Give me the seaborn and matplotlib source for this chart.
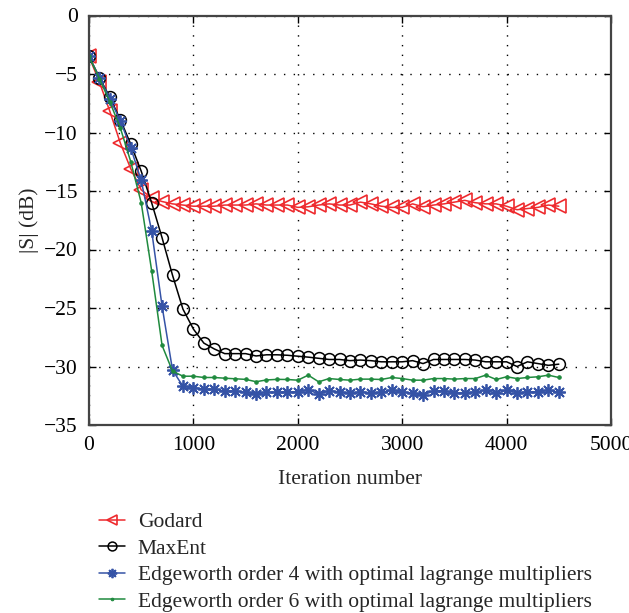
import matplotlib
matplotlib.use("Agg")
import matplotlib.pyplot as plt
import seaborn as sns

iterations = [0, 100, 200, 300, 400, 500, 600, 700, 800, 900,
              1000, 1100, 1200, 1300, 1400, 1500, 1600, 1700, 1800, 1900,
              2000, 2100, 2200, 2300, 2400, 2500, 2600, 2700, 2800, 2900,
              3000, 3100, 3200, 3300, 3400, 3500, 3600, 3700, 3800, 3900,
              4000, 4100, 4200, 4300, 4400, 4500]

godard = [-3.5, -5.7, -8.2, -10.9, -13.1, -14.9, -15.6, -15.9, -16.1, -16.2,
          -16.3, -16.3, -16.3, -16.2, -16.2, -16.2, -16.1, -16.2, -16.2, -16.2,
          -16.4, -16.35, -16.2, -16.1, -16.2, -16.2, -15.95, -16.1, -16.3, -16.4,
          -16.4, -16.1, -16.35, -16.2, -16.1, -15.95, -15.8, -16.0, -16.1, -16.1,
          -16.3, -16.6, -16.5, -16.4, -16.2, -16.3]

maxent = [-3.5, -5.3, -7.0, -8.9, -11.0, -13.3, -16.0, -19.0, -22.2, -25.1,
          -26.8, -28.0, -28.5, -28.9, -28.9, -28.9, -29.1, -29.0, -29.0, -29.04,
          -29.12, -29.2, -29.3, -29.4, -29.4, -29.5, -29.45, -29.5, -29.6, -29.6,
          -29.6, -29.5, -29.75, -29.4, -29.4, -29.4, -29.4, -29.45, -29.6, -29.6,
          -29.6, -30.0, -29.6, -29.75, -29.9, -29.8]

edgeworth4 = [-3.5, -5.3, -7.1, -9.0, -11.3, -14.1, -18.4, -24.85, -30.3, -31.7,
              -31.8, -31.95, -31.95, -32.1, -32.1, -32.2, -32.35, -32.2, -32.2, -32.17,
              -32.17, -31.97, -32.37, -32.08, -32.17, -32.3, -32.17, -32.25, -32.22, -32.02,
              -32.17, -32.3, -32.45, -32.08, -32.08, -32.25, -32.25, -32.17, -32.02, -32.3,
              -32.02, -32.25, -32.17, -32.17, -32.02, -32.22]

edgeworth6 = [-3.5, -5.4, -7.4, -9.6, -12.5, -16.0, -21.8, -28.2, -30.4, -30.83,
              -30.83, -30.94, -30.94, -31.0, -31.05, -31.1, -31.3, -31.15, -31.1, -31.11,
              -31.17, -30.74, -31.31, -31.03, -31.11, -31.17, -31.08, -31.08, -31.11, -30.94,
              -31.03, -31.17, -31.17, -31.03, -31.03, -31.08, -31.03, -31.03, -30.74, -31.11,
              -30.88, -31.03, -30.94, -30.88, -30.74, -30.94]

labels = ["Godard", "MaxEnt",
          "Edgeworth order 4 with optimal lagrange multipliers",
          "Edgeworth order 6 with optimal lagrange multipliers"]
x_ticks = [0, 1000, 2000, 3000, 4000, 5000]
y_ticks = [0, -5, -10, -15, -20, -25, -30, -35]

sns.set_style("ticks")
plt.rcParams['font.family'] = ['Liberation Serif', 'DejaVu Serif']

FS = 15.5
fig = plt.figure(figsize=(6.29, 6.13), dpi=100)
ax = fig.add_axes([89/629, 1-425/613, (611-89)/629, (425-15.5)/613])

red, blue, green = "#ee2a2e", "#3553a6", "#1f8a3e"
styles = [
    dict(color=red, marker="<", markersize=10, markerfacecolor="none",
         markeredgecolor=red, markeredgewidth=1.2, linewidth=1.1),
    dict(color="black", marker="o", markersize=8.5, markerfacecolor="none",
         markeredgecolor="black", markeredgewidth=1.1, linewidth=1.1),
    dict(color=blue, marker=(8, 2, 0), markersize=9, markerfacecolor=blue,
         markeredgecolor=blue, markeredgewidth=1.3, linewidth=1.1),
    dict(color=green, marker=".", markersize=5, markerfacecolor=green,
         markeredgecolor=green, linewidth=1.1),
]
series = [godard, maxent, edgeworth4, edgeworth6]
for vals, lab, st in zip(series, labels, styles):
    sns.lineplot(x=iterations, y=vals, ax=ax, label=lab, **st)

ax.set_xlim(0, 5000)
ax.set_ylim(-35, 0)
ax.set_xticks(x_ticks)
ax.set_yticks(y_ticks)
ax.grid(True, color="black", linestyle=(0, (1, 6)), linewidth=1.0)
for s in ax.spines.values():
    s.set_color("#444444")
    s.set_linewidth(1.6)
ax.tick_params(direction="in", length=5, width=1.0, top=True, right=True,
               labelsize=FS, colors="black", pad=8)
ax.set_xlabel("Iteration number", fontsize=FS, labelpad=11)
ax.set_ylabel("|S| (dB)", fontsize=FS, labelpad=4)

handles, labs = ax.get_legend_handles_labels()
ax.legend_.remove()
fig.legend(handles, labs, loc="upper left", bbox_to_anchor=(99/629, 1-512/613),
           frameon=False, fontsize=FS, handlelength=1.2, handletextpad=0.6,
           labelspacing=0.3, borderaxespad=0, borderpad=0, markerscale=0.75)

fig.savefig("out.png", dpi=100)
